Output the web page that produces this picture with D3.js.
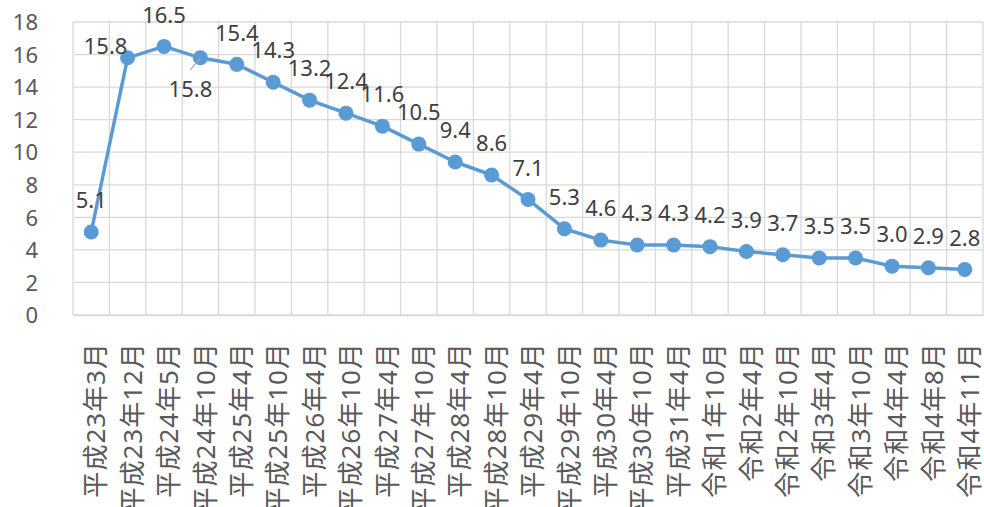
<!DOCTYPE html>
<html>
<head>
<meta charset="utf-8">
<script src="https://cdn.jsdelivr.net/npm/d3@7"></script>
<style>
  html, body { margin: 0; padding: 0; background: #fff; }
  svg { display: block; }
</style>
</head>
<body>
<svg id="chart" width="984" height="507"></svg>
<script>
// Survey periods (x-axis categories)
const categories = [
  "平成23年3月", "平成23年12月", "平成24年5月", "平成24年10月", "平成25年4月",
  "平成25年10月", "平成26年4月", "平成26年10月", "平成27年4月", "平成27年10月",
  "平成28年4月", "平成28年10月", "平成29年4月", "平成29年10月", "平成30年4月",
  "平成30年10月", "平成31年4月", "令和1年10月", "令和2年4月", "令和2年10月",
  "令和3年4月", "令和3年10月", "令和4年4月", "令和4年8月", "令和4年11月"
];

// Series values
const values = [
  5.1, 15.8, 16.5, 15.8, 15.4,
  14.3, 13.2, 12.4, 11.6, 10.5,
  9.4, 8.6, 7.1, 5.3, 4.6,
  4.3, 4.3, 4.2, 3.9, 3.7,
  3.5, 3.5, 3.0, 2.9, 2.8
];

// Y-axis ticks
const yTicks = [0, 2, 4, 6, 8, 10, 12, 14, 16, 18];

const svg = d3.select("#chart");
const W = 984, H = 507;
const plot = { left: 73, right: 983, top: 22, bottom: 315 };

svg.append("rect").attr("width", W).attr("height", H).attr("fill", "#fff");

const x = d3.scaleBand()
  .domain(categories)
  .range([plot.left, plot.right])
  .paddingInner(0).paddingOuter(0);

const y = d3.scaleLinear()
  .domain([0, 18])
  .range([plot.bottom, plot.top]);

const grid = svg.append("g").attr("class", "grid");

// horizontal gridlines
grid.selectAll("line.h")
  .data(yTicks)
  .join("line")
  .attr("class", "h")
  .attr("x1", plot.left).attr("x2", plot.right)
  .attr("y1", d => y(d)).attr("y2", d => y(d))
  .attr("stroke", "#D9D9D9")
  .attr("stroke-width", 1.3);

// vertical gridlines at category boundaries
const bounds = categories.map(c => x(c)).concat([x(categories[categories.length - 1]) + x.bandwidth()]);
grid.selectAll("line.v")
  .data(bounds)
  .join("line")
  .attr("class", "v")
  .attr("x1", d => d).attr("x2", d => d)
  .attr("y1", plot.top).attr("y2", plot.bottom)
  .attr("stroke", "#D9D9D9")
  .attr("stroke-width", 1.3);

// Y axis labels
const yAxis = d3.axisLeft(y).tickValues(yTicks).tickSize(0).tickPadding(0);
const yG = svg.append("g")
  .attr("transform", `translate(38,0)`)
  .call(yAxis);
yG.select(".domain").remove();
yG.selectAll("text")
  .attr("font-family", "'Noto Sans', sans-serif")
  .attr("font-size", 22)
  .attr("fill", "#595959")
  .attr("dy", "0.35em");

// X axis labels (rotated, reading bottom to top)
const xAxis = d3.axisBottom(x).tickSize(0).tickPadding(0);
const xG = svg.append("g")
  .attr("transform", `translate(0,${plot.bottom})`)
  .call(xAxis);
xG.select(".domain")
  .attr("stroke", "#D9D9D9")
  .attr("stroke-width", 1.3);
xG.selectAll(".tick text")
  .attr("font-family", "'Noto Sans', 'Noto Sans CJK JP', sans-serif")
  .attr("font-size", 26)
  .attr("letter-spacing", "1px")
  .attr("fill", "#595959")
  .attr("text-anchor", "end")
  .attr("transform", "translate(5,27) rotate(-90)")
  .attr("x", 0)
  .attr("y", 0)
  .attr("dy", "0.35em");

// Series line
const cx = (d, i) => x(categories[i]) + x.bandwidth() / 2;
const line = d3.line()
  .x((d, i) => cx(d, i))
  .y(d => y(d));

svg.append("path")
  .datum(values)
  .attr("fill", "none")
  .attr("stroke", "#5B9BD5")
  .attr("stroke-width", 3.5)
  .attr("stroke-linejoin", "round")
  .attr("d", line);

// Markers
svg.selectAll("circle.pt")
  .data(values)
  .join("circle")
  .attr("class", "pt")
  .attr("cx", (d, i) => cx(d, i))
  .attr("cy", d => y(d))
  .attr("r", 7.5)
  .attr("fill", "#5B9BD5");

// Data labels: above each point, with two nudged to avoid overlap
const labelShift = { 1: [-22, 20], 3: [-10, 63] };

const labels = svg.append("g").attr("class", "labels");
values.forEach((v, i) => {
  const px = cx(v, i), py = y(v);
  const s = labelShift[i] || [0, 0];
  const lx = px + s[0];
  const ly = py - 31.5 + s[1];
  if (i === 3) {
    // leader line back to the point
    labels.append("line")
      .attr("x1", px - 10).attr("y1", py + 12)
      .attr("x2", px).attr("y2", py)
      .attr("stroke", "#A6A6A6")
      .attr("stroke-width", 1.2);
  }
  labels.append("text")
    .attr("x", lx)
    .attr("y", ly)
    .attr("dy", "0.35em")
    .attr("text-anchor", "middle")
    .attr("font-family", "'Noto Sans', sans-serif")
    .attr("font-size", 22)
    .attr("fill", "#404040")
    .text(v.toFixed(1));
});
</script>
</body>
</html>
